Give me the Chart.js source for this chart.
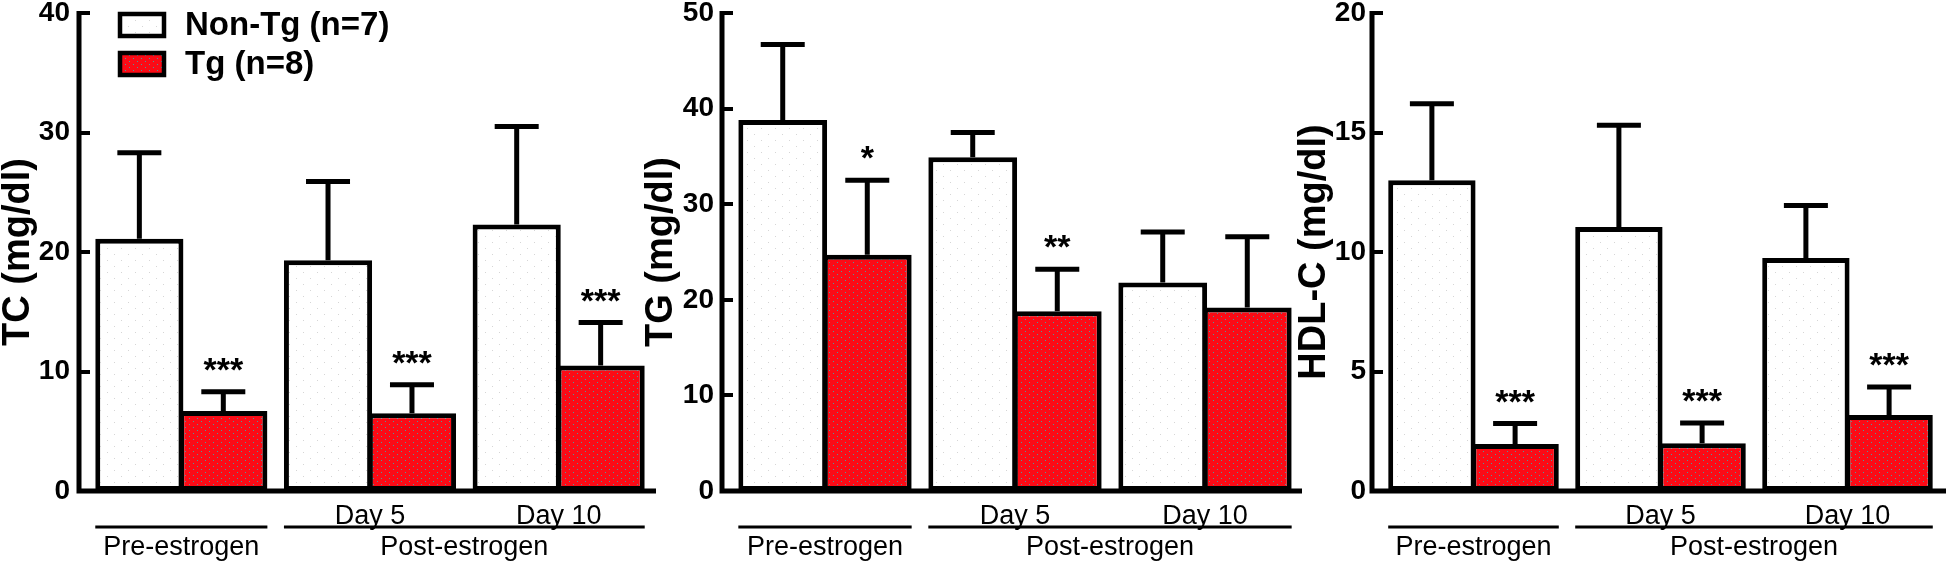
<!DOCTYPE html>
<html>
<head>
<meta charset="utf-8">
<script src="https://cdn.jsdelivr.net/npm/chart.js@4.4.1/dist/chart.umd.min.js"></script>
<style>
  html, body { margin: 0; padding: 0; background: #fff; }
  body { width: 1946px; height: 563px; position: relative; overflow: hidden; }
  canvas { position: absolute; top: 0; }
</style>
</head>
<body>
<canvas id="tcChart"  width="656" height="563" style="left:0px"></canvas>
<canvas id="tgChart"  width="662" height="563" style="left:640px"></canvas>
<canvas id="hdlChart" width="656" height="563" style="left:1290px"></canvas>
<script>
// ── Data ─────────────────────────────────

const groups      = ['', 'Day 5', 'Day 10'];
const seriesNames = ['Non-Tg (n=7)', 'Tg (n=8)'];
const periods     = ['Pre-estrogen', 'Post-estrogen'];

// TC (mg/dl): mean and upper SD
const tcNonTg   = [21.1, 19.3, 22.3];
const tcNonTgSd = [7.2, 6.6, 8.2];
const tcTg      = [6.7, 6.5, 10.5];
const tcTgSd    = [1.6, 2.4, 3.6];
const tcStars   = ['***', '***', '***'];

// TG (mg/dl)
const tgNonTg   = [38.8, 34.9, 21.8];
const tgNonTgSd = [7.9, 2.6, 5.3];
const tgTg      = [24.7, 18.8, 19.2];
const tgTgSd    = [7.8, 4.4, 7.4];
const tgStars   = ['*', '**', ''];

// HDL-C (mg/dl)
const hdlNonTg   = [13.0, 11.05, 9.75];
const hdlNonTgSd = [3.2, 4.25, 2.2];
const hdlTg      = [1.97, 2.0, 3.18];
const hdlTgSd    = [0.85, 0.85, 1.17];
const hdlStars   = ['***', '***', '***'];

// ── Helpers ──────────────────────────────

const FONT = "'Liberation Sans', Arial, Helvetica, sans-serif";
const AXIS_GAP = 8;   // y-axis line sits a little left of the plot area (Prism style)

function dotPattern(bg, dot, w, h, dots) {
  const c = document.createElement('canvas');
  c.width = w; c.height = h;
  const g = c.getContext('2d');
  g.fillStyle = bg;
  g.fillRect(0, 0, w, h);
  g.fillStyle = dot;
  dots.forEach(([x, y]) => g.fillRect(x, y, 1, 1));
  return g.createPattern(c, 'repeat');
}

const whiteFill = dotPattern('#ffffff', '#d6d6d6', 14, 12, [[2, 2], [9, 8]]);
const redFill   = dotPattern('#fb0b16', '#4e9a9a', 8, 6, [[1, 1], [5, 4]]);

// ── Decorations: axes, ticks, error bars, stars, periods, legend ──

const decor = {
  id: 'decor',
  afterDatasetsDraw(chart, args, opts) {
    const ctx = chart.ctx;
    const area = chart.chartArea;
    const ys = chart.scales.y;
    const axisX = area.left - AXIS_GAP;
    ctx.save();
    ctx.strokeStyle = '#000';
    ctx.lineCap = 'butt';

    // axis lines
    ctx.lineWidth = 5;
    ctx.beginPath();
    ctx.moveTo(axisX, area.top - 2);
    ctx.lineTo(axisX, area.bottom);
    ctx.moveTo(axisX - 2.5, area.bottom);
    ctx.lineTo(area.right + opts.axisExtend, area.bottom);
    ctx.stroke();

    // inward tick marks
    ctx.lineWidth = 4;
    ys.ticks.forEach(t => {
      const y = Math.round(ys.getPixelForValue(t.value));
      ctx.beginPath();
      ctx.moveTo(axisX - 2, y);
      ctx.lineTo(axisX + 11, y);
      ctx.stroke();
    });

    // upward error bars
    ctx.lineWidth = 5;
    const tops = [[], []];
    chart.data.datasets.forEach((ds, di) => {
      const meta = chart.getDatasetMeta(di);
      meta.data.forEach((bar, i) => {
        const yErr = ys.getPixelForValue(ds.data[i] + ds.sd[i]);
        tops[di][i] = yErr;
        ctx.beginPath();
        ctx.moveTo(bar.x, bar.y);
        ctx.lineTo(bar.x, yErr);
        ctx.moveTo(bar.x - 22, yErr);
        ctx.lineTo(bar.x + 22, yErr);
        ctx.stroke();
      });
    });

    // significance stars above Tg bars
    ctx.fillStyle = '#000';
    ctx.font = `bold 34px ${FONT}`;
    ctx.textAlign = 'center';
    ctx.textBaseline = 'alphabetic';
    const tgMeta = chart.getDatasetMeta(1);
    opts.stars.forEach((s, i) => {
      if (s) ctx.fillText(s, tgMeta.data[i].x, tops[1][i] - 11);
    });

    // period brackets under the x axis
    const m0 = chart.getDatasetMeta(0).data;
    const m1 = chart.getDatasetMeta(1).data;
    const lineY = area.bottom + 36;
    const spans = [
      [m0[0].x - m0[0].width / 2, m1[0].x + m1[0].width / 2],
      [m0[1].x - m0[1].width / 2, m1[2].x + m1[2].width / 2]
    ];
    ctx.lineWidth = 3;
    ctx.font = `27px ${FONT}`;
    ctx.textBaseline = 'middle';
    spans.forEach(([a, b], i) => {
      ctx.beginPath();
      ctx.moveTo(a, lineY);
      ctx.lineTo(b, lineY);
      ctx.stroke();
      ctx.fillText(periods[i], (a + b) / 2, lineY + 21);
    });

    // legend in the top-left of the first panel
    if (opts.legend) {
      ctx.font = `bold 33px ${FONT}`;
      ctx.textAlign = 'left';
      ctx.lineWidth = 4.5;
      chart.data.datasets.forEach((ds, di) => {
        const bx = axisX + 41, by = area.top + 1 + di * 39;
        ctx.fillStyle = ds.backgroundColor;
        ctx.fillRect(bx, by, 44, 22);
        ctx.strokeRect(bx, by, 44, 22);
        ctx.fillStyle = '#000';
        ctx.fillText(ds.label, axisX + 106, by + 12);
      });
    }
    ctx.restore();
  }
};

// ── Panel factory ────────────────────────

function makePanel(id, cfg) {
  return new Chart(document.getElementById(id), {
    type: 'bar',
    data: {
      labels: groups,
      datasets: [
        { label: seriesNames[0], data: cfg.nonTg, sd: cfg.nonTgSd, backgroundColor: whiteFill },
        { label: seriesNames[1], data: cfg.tg,    sd: cfg.tgSd,    backgroundColor: redFill }
      ].map(d => Object.assign(d, {
        borderColor: '#000', borderWidth: 5, borderSkipped: false,
        categoryPercentage: 0.89, barPercentage: 1.05
      }))
    },
    options: {
      responsive: false,
      animation: false,
      devicePixelRatio: 1,
      layout: { padding: { top: 13, right: cfg.padRight, left: 0, bottom: 0 } },
      plugins: {
        legend: { display: false },
        tooltip: { enabled: false },
        decor: { stars: cfg.stars, legend: !!cfg.legend, axisExtend: cfg.padRight }
      },
      scales: {
        x: {
          grid: { display: false, drawTicks: false },
          border: { display: false },
          ticks: { color: '#000', font: { family: FONT, size: 27 }, padding: 9, maxRotation: 0, autoSkip: false },
          afterFit: s => { s.height = 72; s.paddingLeft = 0; s.paddingRight = 0; }
        },
        y: {
          min: 0,
          max: cfg.max,
          grid: { display: false, drawTicks: false },
          border: { display: false },
          ticks: {
            stepSize: cfg.step, color: '#000', padding: cfg.labelPad,
            font: { family: FONT, size: 28, weight: 'bold' }
          },
          title: {
            display: true, text: cfg.title, color: '#000',
            font: { family: FONT, size: 38, weight: 'bold', lineHeight: 1 },
            padding: { top: cfg.titlePad, bottom: 0 }
          },
          afterFit: s => { s.width = cfg.axisWidth; s.paddingTop = 0; s.paddingBottom = 0; }
        }
      }
    },
    plugins: [decor]
  });
}

makePanel('tcChart', {
  nonTg: tcNonTg, nonTgSd: tcNonTgSd, tg: tcTg, tgSd: tcTgSd, stars: tcStars,
  max: 40, step: 10, title: 'TC (mg/dl)', titlePad: 0, labelPad: 17,
  axisWidth: 87, padRight: 3, legend: true
});
makePanel('tgChart', {
  nonTg: tgNonTg, nonTgSd: tgNonTgSd, tg: tgTg, tgSd: tgTgSd, stars: tgStars,
  max: 50, step: 10, title: 'TG (mg/dl)', titlePad: 3, labelPad: 16,
  axisWidth: 90, padRight: 2
});
makePanel('hdlChart', {
  nonTg: hdlNonTg, nonTgSd: hdlNonTgSd, tg: hdlTg, tgSd: hdlTgSd, stars: hdlStars,
  max: 20, step: 5, title: 'HDL-C (mg/dl)', titlePad: 6, labelPad: 14,
  axisWidth: 90, padRight: 5
});
</script>
</body>
</html>
